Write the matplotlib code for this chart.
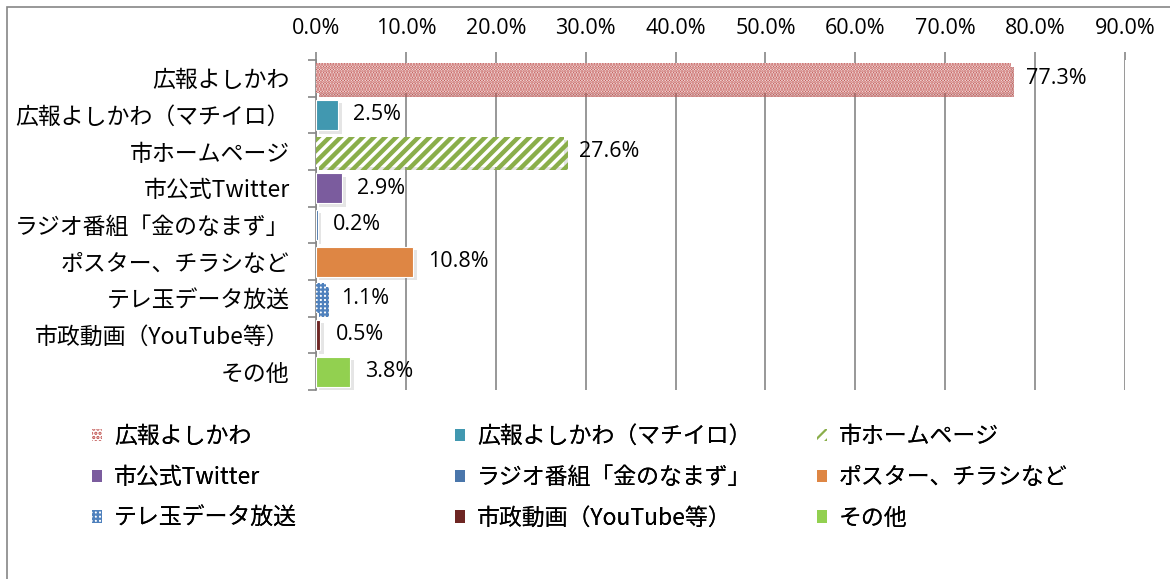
import matplotlib
matplotlib.use("Agg")
import matplotlib.pyplot as plt
from matplotlib.patches import Rectangle, Patch
from matplotlib.ticker import FuncFormatter, FixedLocator
import matplotlib.patheffects as pe

JP = ['Noto Sans CJK JP', 'DejaVu Sans']
NUM = ['Open Sans', 'DejaVu Sans']
plt.rcParams['font.family'] = JP

categories = ["広報よしかわ", "広報よしかわ（マチイロ）", "市ホームページ", "市公式Twitter",
              "ラジオ番組「金のなまず」", "ポスター、チラシなど", "テレ玉データ放送",
              "市政動画（YouTube等）", "その他"]
values = [77.3, 2.5, 27.6, 2.9, 0.2, 10.8, 1.1, 0.5, 3.8]
value_labels = ["77.3%", "2.5%", "27.6%", "2.9%", "0.2%", "10.8%", "1.1%", "0.5%", "3.8%"]
x_ticks = [0, 10, 20, 30, 40, 50, 60, 70, 80, 90]

# (face, edge/hatch colour, hatch pattern, hatch width)
styles = [
    ("white", "#C0504D", "......", 1.6),
    ("#4198B0", "white", None, 1.0),
    ("white", "#8AAE4A", "///", 3.2),
    ("#7B5C9E", "white", None, 1.0),
    ("#4A76AB", "white", None, 1.0),
    ("#DE8644", "white", None, 1.0),
    ("white", "#4F81BD", "++++", 1.6),
    ("#6E2623", "white", None, 1.0),
    ("#92D050", "white", None, 1.0),
]
legend_swatch = ["#C0504D", "#4198B0", "#8AAE4A", "#7B5C9E", "#4A76AB",
                 "#DE8644", "#4F81BD", "#6E2623", "#92D050"]

W, H = 1170, 579
fig = plt.figure(figsize=(W / 100, H / 100), dpi=100)
ax = fig.add_axes([316 / W, 1 - 390 / H, (1125 - 316) / W, (390 - 60) / H])

# outer chart frame
fig.patches.append(Rectangle((7 / W, -0.1), 1.2, 1 - 7 / H + 0.1,
                             transform=fig.transFigure, fill=False,
                             edgecolor="#868686", linewidth=1.2, zorder=0))

ypos = list(range(len(categories)))
shadow = [pe.SimplePatchShadow(offset=(2.5, -2.5), shadow_rgbFace="#8a8a8a", alpha=0.22),
          pe.Normal()]
for i, (cat, v) in enumerate(zip(categories, values)):
    face, ec, hatch, hw = styles[i]
    plt.rcParams['hatch.linewidth'] = hw
    lw = 0 if hatch else 0.8
    bars = ax.barh(ypos[i], v, height=0.82, color=face, edgecolor=ec,
                   hatch=hatch, linewidth=lw, label=cat, zorder=3)
    for b in bars:
        try:
            b.set_hatch_linewidth(hw)
        except AttributeError:
            pass
        b.set_path_effects(shadow)
    ax.annotate(value_labels[i], xy=(v, ypos[i]), xytext=(15, 0),
                textcoords="offset pixels", ha="left", va="center",
                fontsize=15.5, family=NUM, color="black", zorder=4)

ax.set_xlim(0, 90)
ax.set_ylim(len(categories) - 0.5, -0.5)
ax.xaxis.tick_top()
ax.xaxis.set_major_locator(FixedLocator(x_ticks))
ax.xaxis.set_major_formatter(FuncFormatter(lambda x, p: f"{x:.1f}%"))
ax.tick_params(axis="x", which="major", length=5.8, color="#868686",
               labelsize=15.5, pad=9, width=1.2)
for lab in ax.get_xticklabels():
    lab.set_family(NUM)
ax.grid(axis="x", color="#868686", linewidth=1.2, zorder=0)

ax.set_yticks(ypos)
ax.set_yticklabels(categories)
ax.yaxis.set_minor_locator(FixedLocator([k - 0.5 for k in range(len(categories) + 1)]))
ax.tick_params(axis="y", which="major", length=0, labelsize=16.5, pad=19)
ax.tick_params(axis="y", which="minor", length=5.8, color="#868686", width=1.2)

for side in ["top", "right", "bottom"]:
    ax.spines[side].set_visible(False)
ax.spines["left"].set_color("#868686")
ax.spines["left"].set_linewidth(1.2)

# legend: three columns, read row by row
proxies = []
for i, cat in enumerate(categories):
    face, ec, hatch, hw = styles[i]
    if hatch:
        plt.rcParams['hatch.linewidth'] = min(hw, 2.0)
        proxies.append(Patch(facecolor="white", edgecolor=legend_swatch[i],
                             hatch=hatch[:4], linewidth=0))
    else:
        proxies.append(Patch(facecolor=face, edgecolor="none", linewidth=0))

col_x = [92, 455, 817]
for c in range(3):
    idx = [c, c + 3, c + 6]
    leg = fig.legend([proxies[k] for k in idx], [categories[k] for k in idx],
                     loc="upper left", bbox_to_anchor=(col_x[c] / W, 1 - 425 / H),
                     frameon=False, fontsize=16.5, handlelength=0.45, handleheight=0.45,
                     handletextpad=0.5, labelspacing=0.78, borderpad=0, borderaxespad=0)
    fig.add_artist(leg)

fig.savefig("out.png", dpi=100)
